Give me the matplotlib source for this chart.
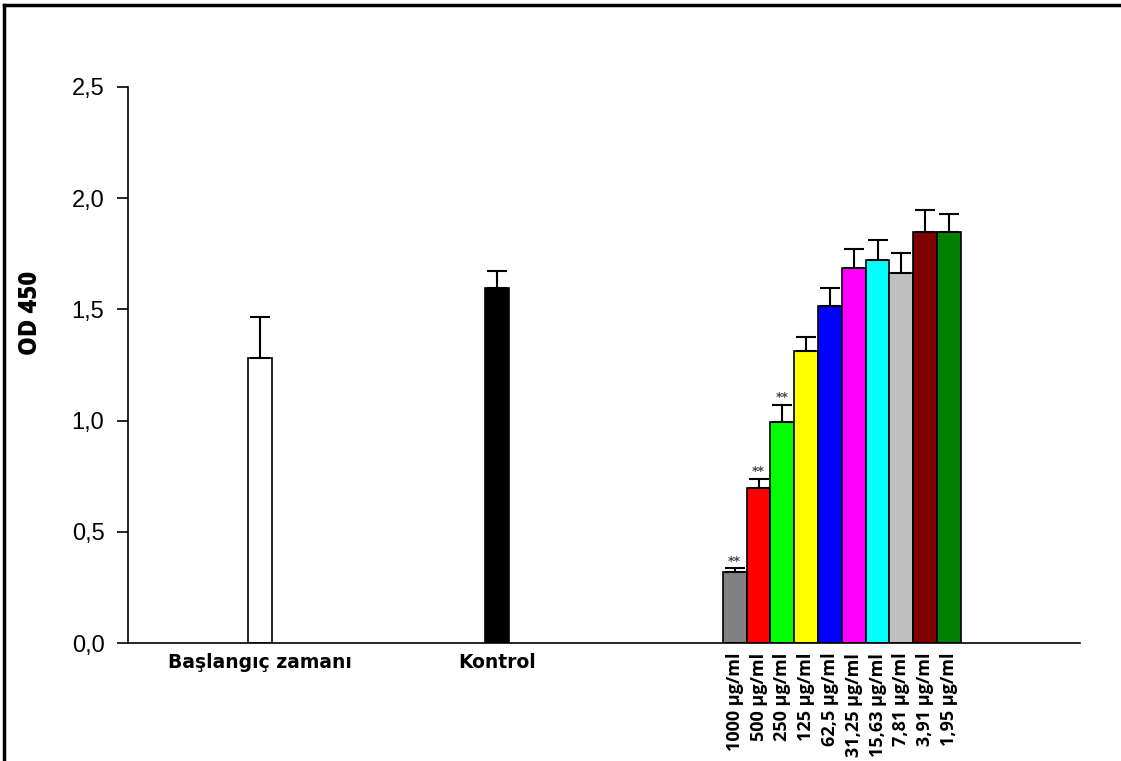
import matplotlib
matplotlib.use("Agg")
import matplotlib.pyplot as plt
import numpy as np
from matplotlib.lines import Line2D

# values
groups = ["Başlangıç zamanı", "Kontrol"]
group_means = [1.28, 1.595]
group_err = [0.185, 0.077]
group_colors = ["white", "black"]

doses = ["1000 µg/ml", "500 µg/ml", "250 µg/ml", "125 µg/ml", "62,5 µg/ml",
         "31,25 µg/ml", "15,63 µg/ml", "7,81 µg/ml", "3,91 µg/ml", "1,95 µg/ml"]
dose_means = [0.318, 0.697, 0.995, 1.313, 1.515, 1.686, 1.722, 1.664, 1.848, 1.848]
dose_err = [0.018, 0.040, 0.076, 0.063, 0.081, 0.086, 0.090, 0.090, 0.099, 0.081]
dose_colors = ["#808080", "#ff0000", "#00ff00", "#ffff00", "#0000ff",
               "#ff00ff", "#00ffff", "#c0c0c0", "#800000", "#008000"]
significant = [True, True, True, False, False, False, False, False, False, False]

yticks = [0.0, 0.5, 1.0, 1.5, 2.0, 2.5]

fig = plt.figure(figsize=(11.21, 7.61), dpi=100)
ax = fig.add_axes([0.1142, 0.155, 0.849, 0.731])

group_x = np.array([5.55, 15.5])
dose_x = 25.5 + np.arange(len(doses))
width = 1.0

ax.bar(group_x, group_means, width=width, color=group_colors, edgecolor="black",
       linewidth=1.2, zorder=2)
ax.errorbar(group_x, group_means, yerr=[np.zeros(2), group_err], fmt="none",
            ecolor="black", elinewidth=1.5, capsize=7.5, capthick=1.5, zorder=3)

ax.bar(dose_x, dose_means, width=width, color=dose_colors, edgecolor="black",
       linewidth=1.2, zorder=2)
ax.errorbar(dose_x, dose_means, yerr=[np.zeros(len(doses)), dose_err], fmt="none",
            ecolor="black", elinewidth=1.5, capsize=7.5, capthick=1.5, zorder=3)

for x, m, e, s in zip(dose_x, dose_means, dose_err, significant):
    if s:
        ax.text(x, m + e + 0.003, "**", ha="center", va="bottom", fontsize=9,
                fontweight="bold", color="#444444")

ax.set_xlim(0, 40.0)
ax.set_ylim(0, 2.5)
ax.set_yticks(yticks)
ax.set_yticklabels([f"{v:.1f}".replace(".", ",") for v in yticks],
                   fontsize=17, family="Liberation Sans")
ax.tick_params(axis="y", direction="out", length=8, width=1.2, pad=9)

ax.set_xticks(list(group_x) + list(dose_x))
ax.set_xticklabels(groups + doses)
ax.tick_params(axis="x", length=0, pad=7)
for lab in ax.get_xticklabels()[:2]:
    lab.set_fontsize(13.5)
    lab.set_fontweight("bold")
for lab in ax.get_xticklabels()[2:]:
    lab.set_rotation(90)
    lab.set_fontsize(13)
    lab.set_fontweight("bold")
    lab.set_family("Open Sans")
    lab.set_va("top")

ax.set_ylabel("OD 450", fontsize=17, fontweight=800, family="Open Sans")
ax.yaxis.set_label_coords(-0.089, 0.594)

for side in ["top", "right"]:
    ax.spines[side].set_visible(False)
for side in ["left", "bottom"]:
    ax.spines[side].set_linewidth(1.2)

# frame lines on the left and top edges of the picture
fig.lines.append(Line2D([0.004, 0.004], [0.0, 0.994], transform=fig.transFigure,
                        color="black", linewidth=2.5))
fig.lines.append(Line2D([0.004, 1.0], [0.994, 0.994], transform=fig.transFigure,
                        color="black", linewidth=2.5))

fig.savefig("out.png", dpi=100)
